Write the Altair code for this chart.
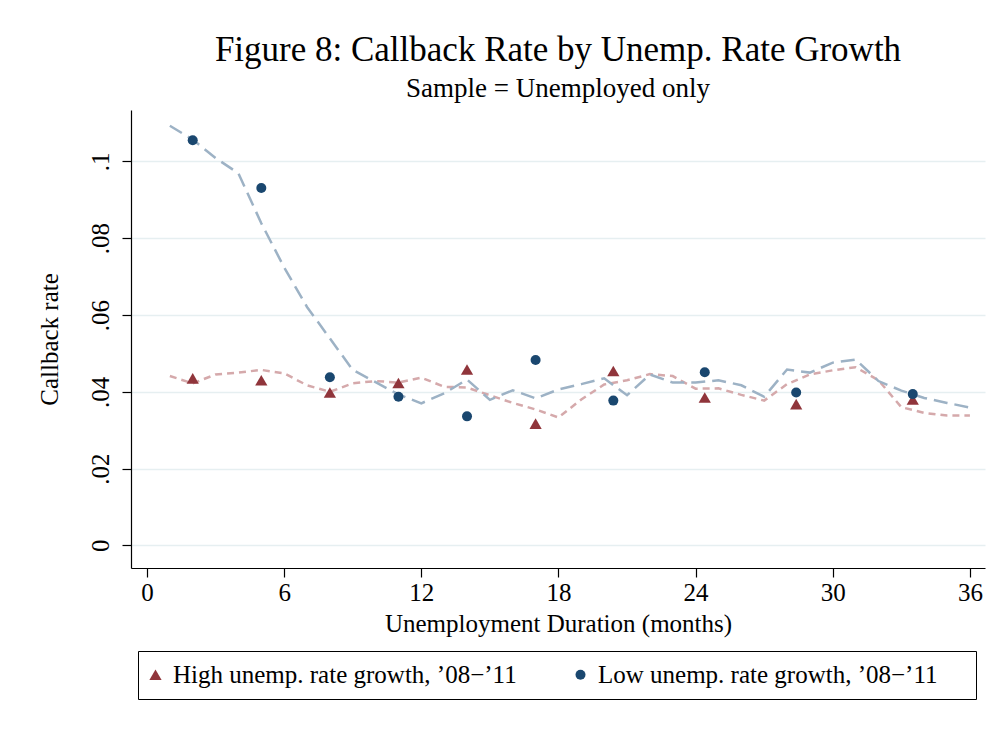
import altair as alt
import pandas as pd

# Smoothed callback rate by month of unemployment duration
months = list(range(1, 37))
high_smooth = [0.0441, 0.0422, 0.0445, 0.0450, 0.0457, 0.0448, 0.0417, 0.0400, 0.0422,
               0.0428, 0.0424, 0.0437, 0.0413, 0.0411, 0.0391, 0.0371, 0.0354, 0.0333,
               0.0380, 0.0419, 0.0430, 0.0446, 0.0441, 0.0408, 0.0409, 0.0392, 0.0377,
               0.0420, 0.0445, 0.0456, 0.0464, 0.0430, 0.0360, 0.0345, 0.0338, 0.0338]
low_smooth = [0.1093, 0.1057, 0.1009, 0.0969, 0.0839, 0.0724, 0.0621, 0.0539, 0.0457,
              0.0425, 0.0393, 0.0370, 0.0396, 0.0432, 0.0379, 0.0404, 0.0383, 0.0406,
              0.0420, 0.0435, 0.0391, 0.0445, 0.0424, 0.0424, 0.0430, 0.0417, 0.0387,
              0.0458, 0.0450, 0.0476, 0.0484, 0.0428, 0.0403, 0.0384, 0.0371, 0.0359]

# Binned averages
bin_months = [2, 5, 8, 11, 14, 17, 20.4, 24.4, 28.4, 33.5]
high_rate = [0.0435, 0.0430, 0.0398, 0.0423, 0.0458, 0.0317, 0.0454, 0.0385, 0.0368, 0.0380]
low_rate = [0.1055, 0.0931, 0.0438, 0.0387, 0.0336, 0.0483, 0.0377, 0.0451, 0.0398, 0.0394]

HIGH = "High unemp. rate growth, \u201908\u2212\u201911"
LOW = "Low unemp. rate growth, \u201908\u2212\u201911"
SERIES = [HIGH, LOW]

SERIF = "Liberation Serif"

high_df = pd.DataFrame({"month": months, "rate": high_smooth})
low_df = pd.DataFrame({"month": months, "rate": low_smooth})
points_df = pd.DataFrame({
    "month": bin_months * 2,
    "rate": high_rate + low_rate,
    "series": [HIGH] * len(bin_months) + [LOW] * len(bin_months),
})

x_enc = alt.X(
    "month:Q",
    scale=alt.Scale(domain=[-0.7, 36.66], nice=False, zero=False),
    axis=alt.Axis(
        values=[0, 6, 12, 18, 24, 30, 36],
        title="Unemployment Duration (months)",
        grid=False,
        labelBaseline="alphabetic",
        labelPadding=23,
        titleBaseline="alphabetic",
        titleY=63,
    ),
)
y_enc = alt.Y(
    "rate:Q",
    scale=alt.Scale(domain=[-0.0059, 0.1134], nice=False, zero=False),
    axis=alt.Axis(
        values=[0, 0.02, 0.04, 0.06, 0.08, 0.1],
        labelExpr="datum.value == 0 ? '0' : substring(format(datum.value, '.2~f'), 1)",
        title="Callback rate",
        grid=True,
        labelAngle=270,
        labelAlign="center",
        labelBaseline="alphabetic",
        labelPadding=14,
        titleAngle=270,
        titleAlign="center",
        titleBaseline="alphabetic",
        titleX=-74,
        titleY=229,
    ),
)

high_line = alt.Chart(high_df).mark_line(
    color="#d5a9ab", strokeWidth=2.5, strokeDash=[7, 5]
).encode(x=x_enc, y=y_enc)

low_line = alt.Chart(low_df).mark_line(
    color="#9db2c5", strokeWidth=2.5, strokeDash=[14, 7]
).encode(x=x_enc, y=y_enc)

# Legend box spans the plot width; a blank right-side title pads its right edge
legend = alt.Legend(
    title="\u00a0",
    titleOrient="right",
    titlePadding=28,
    titleFontSize=25,
    orient="none",
    legendX=7,
    legendY=541,
    direction="horizontal",
    columns=2,
    columnPadding=57,
    padding=11,
    strokeColor="black",
    labelFont=SERIF,
    labelFontSize=25,
    labelColor="black",
    labelLimit=0,
    labelOffset=5,
    symbolOffset=-6,
    symbolSize=60,
    symbolStrokeWidth=0,
)

points = alt.Chart(points_df).mark_point(filled=True, opacity=1).encode(
    x=x_enc,
    y=y_enc,
    color=alt.Color("series:N", scale=alt.Scale(domain=SERIES, range=["#90353b", "#1a476f"]), legend=legend),
    shape=alt.Shape("series:N", scale=alt.Scale(domain=SERIES, range=["triangle-up", "circle"]), legend=legend),
    size=alt.Size("series:N", scale=alt.Scale(domain=SERIES, range=[150, 100]), legend=None),
)

chart = alt.layer(high_line, low_line, points).properties(
    width=854,
    height=458,
    autosize=alt.AutoSizeParams(type="none"),
    padding={"left": 131, "top": 110, "right": 15, "bottom": 161},
    title=alt.TitleParams(
        text="Figure 8: Callback Rate by Unemp. Rate Growth",
        subtitle="Sample = Unemployed only",
        font=SERIF,
        fontSize=35,
        fontWeight="normal",
        color="black",
        subtitleFont=SERIF,
        subtitleFontSize=27,
        subtitleColor="black",
        subtitlePadding=8,
        anchor="middle",
        offset=8,
    ),
).configure_view(
    stroke=None
).configure_axis(
    domainColor="black",
    domainWidth=1.2,
    tickColor="black",
    tickWidth=1.2,
    tickSize=9,
    labelFont=SERIF,
    labelFontSize=25,
    labelColor="black",
    titleFont=SERIF,
    titleFontSize=25,
    titleFontWeight="normal",
    titleColor="black",
    gridColor="#e6eff1",
    gridWidth=1.6,
)

chart.save("out.html", embed_options={"renderer": "svg", "actions": False})
